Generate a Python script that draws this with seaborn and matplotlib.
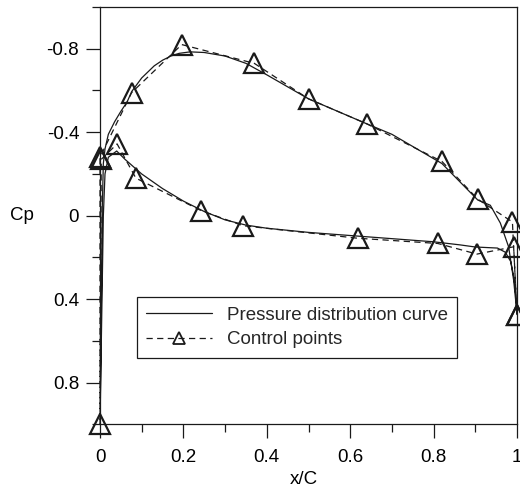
import matplotlib
matplotlib.use("Agg")
import matplotlib.pyplot as plt
import seaborn as sns
import pandas as pd
from matplotlib.ticker import MultipleLocator

sns.set_theme(style="white")
plt.rcParams['font.family'] = ['Liberation Sans', 'DejaVu Sans']

# Pressure distribution curve: upper surface (TE -> LE), then lower surface (LE -> TE)
curve_x = [1.0, 0.992, 0.98, 0.96, 0.936, 0.906, 0.82, 0.7, 0.64, 0.5, 0.4, 0.35,
           0.3, 0.25, 0.216, 0.19, 0.17, 0.15, 0.13, 0.1, 0.076, 0.065, 0.05, 0.035,
           0.02, 0.012, 0.008, 0.005, 0.003, 0.0,
           0.004, 0.008, 0.012, 0.02, 0.04, 0.06, 0.1, 0.15, 0.2, 0.25, 0.3, 0.35,
           0.4, 0.5, 0.6, 0.7, 0.8, 0.864, 0.9, 0.953, 0.972, 0.985, 0.993, 0.998, 1.0]
curve_cp = [0.47, 0.31, 0.15, 0.035, -0.05, -0.075, -0.25, -0.39, -0.44, -0.56, -0.675, -0.73,
            -0.765, -0.782, -0.785, -0.778, -0.765, -0.745, -0.718, -0.66, -0.595, -0.545,
            -0.5, -0.45, -0.39, -0.32, -0.25, 0.0, 0.5, 1.0,
            0.5, 0.0, -0.2, -0.28, -0.31, -0.27, -0.2, -0.13, -0.07, -0.02, 0.02, 0.045,
            0.06, 0.08, 0.095, 0.11, 0.125, 0.14, 0.15, 0.155, 0.175, 0.22, 0.3, 0.4, 0.47]

# Control points: upper surface (TE -> LE), stagnation, lower surface (LE -> TE)
ctrl_x = [1.0, 0.989, 0.906, 0.82, 0.64, 0.5, 0.37, 0.196, 0.076, 0.0,
          0.0,
          0.003, 0.041, 0.086, 0.243, 0.343, 0.618, 0.81, 0.904, 0.992, 1.0]
ctrl_cp = [0.476, 0.03, -0.079, -0.26, -0.44, -0.56, -0.73, -0.82, -0.59, -0.28,
           1.0,
           -0.27, -0.344, -0.18, -0.024, 0.048, 0.108, 0.133, 0.184, 0.149, 0.476]

x_ticks = [0, 0.2, 0.4, 0.6, 0.8, 1]
x_tick_labels = ["0", "0.2", "0.4", "0.6", "0.8", "1"]
y_ticks = [-0.8, -0.4, 0, 0.4, 0.8]
y_tick_labels = ["-0.8", "-0.4", "0", "0.4", "0.8"]

curve_df = pd.DataFrame({"x": curve_x, "cp": curve_cp})
ctrl_df = pd.DataFrame({"x": ctrl_x, "cp": ctrl_cp})

fig = plt.figure(figsize=(5.2, 4.91), dpi=100)
ax = fig.add_axes([100/520, 1-424.4/491, 417/520, 417.4/491])

ink = "#1a1a1a"
sns.lineplot(data=curve_df, x="x", y="cp", sort=False, estimator=None, ax=ax,
             color=ink, lw=0.9, label="Pressure distribution curve")
sns.lineplot(data=ctrl_df, x="x", y="cp", sort=False, estimator=None, ax=ax,
             color=ink, lw=0.9, linestyle=(0, (5, 3.5)), marker="^", markersize=14,
             markerfacecolor="none", markeredgecolor=ink, markeredgewidth=1.6,
             label="Control points", clip_on=False)

ax.set_xlim(0, 1)
ax.set_ylim(1, -1)
ax.set_xticks(x_ticks)
ax.set_xticklabels(x_tick_labels)
ax.set_yticks(y_ticks)
ax.set_yticklabels(y_tick_labels)
ax.xaxis.set_minor_locator(MultipleLocator(0.1))
ax.yaxis.set_minor_locator(MultipleLocator(0.2))
ax.tick_params(axis="both", which="major", direction="out", length=10, width=0.9,
               color=ink, labelsize=13.5, left=True, bottom=True,
               top=False, right=False, labelcolor="black")
ax.tick_params(axis="y", which="major", pad=5)
ax.tick_params(axis="x", which="major", pad=8)
ax.tick_params(axis="both", which="minor", direction="out", length=5.5, width=0.9,
               color=ink, left=True, bottom=True, top=False, right=False)

for s in ax.spines.values():
    s.set_visible(True)
    s.set_color(ink)
    s.set_linewidth(0.9)

ax.set_xlabel("x/C", fontsize=13.5, color="black")
ax.set_ylabel("Cp", fontsize=13.5, color="black", rotation=0, va="center", ha="center")
ax.xaxis.set_label_coords(0.49, -0.112)
ax.yaxis.set_label_coords(-0.187, 0.5)

leg = ax.legend(loc="upper left", bbox_to_anchor=(0.0887, 0.305), borderaxespad=0,
                fontsize=13.5, handlelength=3.5, handletextpad=0.8, labelspacing=0.4,
                borderpad=0.5, frameon=True, fancybox=False, framealpha=1,
                edgecolor=ink)
leg.get_frame().set_linewidth(0.9)
for h in leg.legend_handles:
    h.set_markersize(8)
    h.set_markeredgewidth(1.3)

fig.savefig("out.png", dpi=100)
